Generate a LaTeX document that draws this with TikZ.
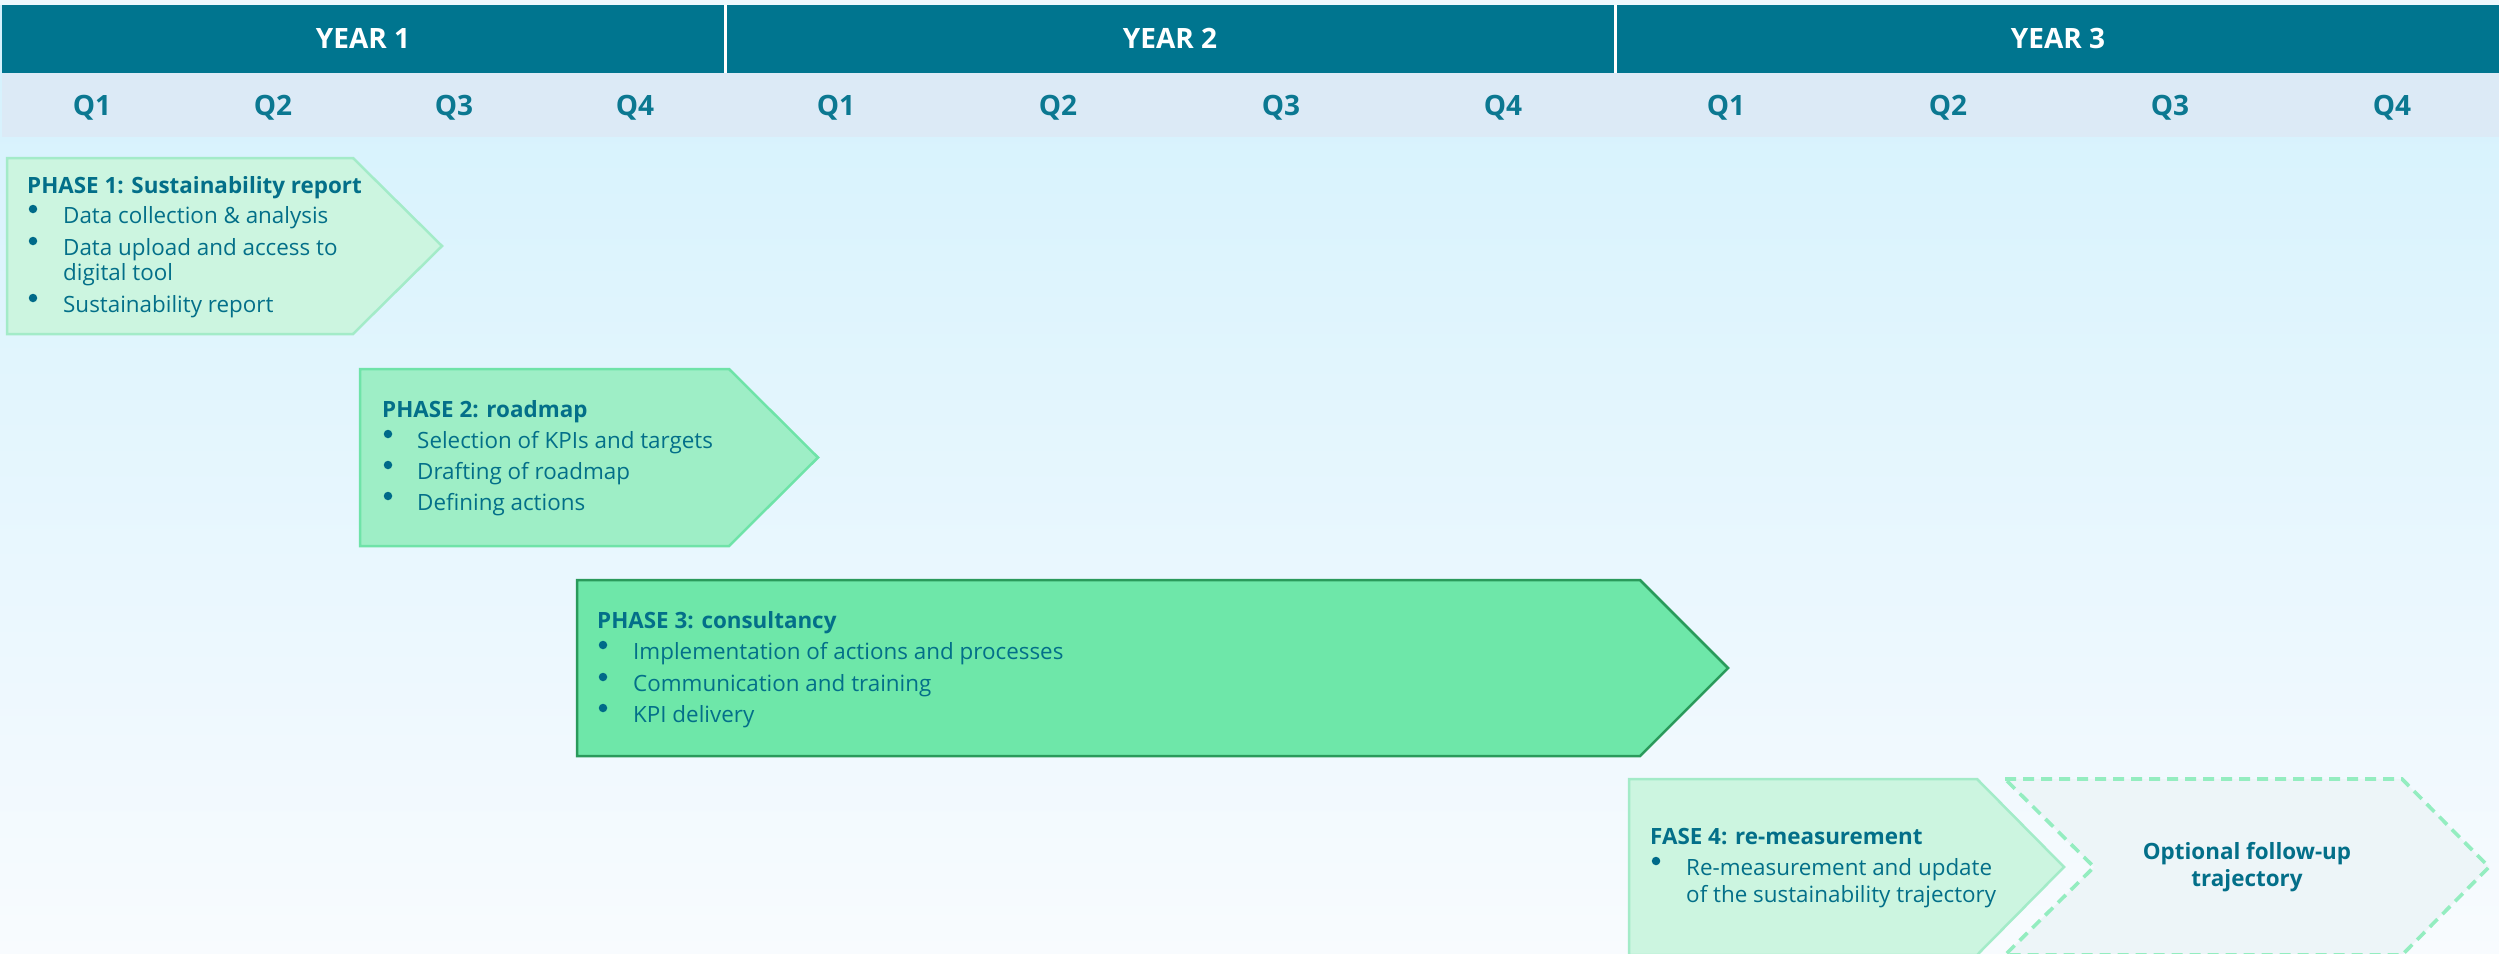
\documentclass[tikz,border=0pt]{standalone}
\usepackage{fontspec}
\setmainfont{Open Sans}
\definecolor{bgtop}{HTML}{D3F1FD}
\definecolor{bgbot}{HTML}{F8FBFE}
\definecolor{yearband}{HTML}{00758F}
\definecolor{qband}{HTML}{DCEAF6}
\definecolor{qtext}{HTML}{0B7891}
\definecolor{ptext}{HTML}{036F89}
\definecolor{dotcol}{HTML}{006A89}
\definecolor{lightfill}{HTML}{CCF5E0}
\definecolor{lightline}{HTML}{A3EBC8}
\definecolor{midfill}{HTML}{9EEEC6}
\definecolor{midline}{HTML}{6FE3A8}
\definecolor{darkfill}{HTML}{6EE7A9}
\definecolor{darkline}{HTML}{2A9A5B}
\definecolor{optfill}{HTML}{EDF5F8}
\definecolor{optline}{HTML}{94EDC0}
\tikzset{
  yeartext/.style={text=white, font=\fontsize{28}{32}\selectfont\bfseries, anchor=base, inner sep=0pt},
  qlabel/.style={text=qtext, font=\fontsize{28}{32}\selectfont\bfseries, anchor=base, inner sep=0pt},
  ptitle/.style={text=ptext, font=\fontsize{22.4}{26}\selectfont\bfseries, anchor=base west, inner sep=0pt},
  pitem/.style={text=ptext, font=\fontsize{22.4}{26}\selectfont, anchor=base west, inner sep=0pt},
  opttext/.style={text=ptext, font=\fontsize{22.4}{26}\selectfont\bfseries, anchor=base, inner sep=0pt},
  bulletdot/.style={circle, fill=dotcol, inner sep=0pt, minimum size=8.5pt},
  chevlight/.style={fill=lightfill, draw=lightline, line width=2.5pt, line join=miter},
  chevmid/.style={fill=midfill, draw=midline, line width=2.5pt, line join=miter},
  chevdark/.style={fill=darkfill, draw=darkline, line width=2.5pt, line join=miter},
  chevopt/.style={fill=optfill, draw=optline, line width=3.6pt, dash pattern=on 11pt off 7pt},
}
\begin{document}
\begin{tikzpicture}[x=1pt, y=-1pt]
\useasboundingbox (0,0) rectangle (2499,953);
% background
\shade[top color=bgtop, bottom color=bgbot] (0,0) rectangle (2499,953);
\fill[white!60!bgtop] (0,0) rectangle (2499,5);
% header bands
\fill[yearband] (2,5) rectangle (2499,73);
\fill[qband] (2,73) rectangle (2499,137);
\fill[white] (724,5) rectangle (727,73);
\fill[white] (1614,5) rectangle (1617,73);
% year labels
\node[yeartext] (y1) at (363,48) {YEAR 1};
\node[yeartext] (y2) at (1170,48) {YEAR 2};
\node[yeartext] (y3) at (2058,48) {YEAR 3};
% quarter labels
\node[qlabel] (a1) at (92,115) {Q1};
\node[qlabel] (a2) at (273,115) {Q2};
\node[qlabel] (a3) at (454,115) {Q3};
\node[qlabel] (a4) at (635,115) {Q4};
\node[qlabel] (b1) at (836,115) {Q1};
\node[qlabel] (b2) at (1058,115) {Q2};
\node[qlabel] (b3) at (1281,115) {Q3};
\node[qlabel] (b4) at (1503,115) {Q4};
\node[qlabel] (c1) at (1726,115) {Q1};
\node[qlabel] (c2) at (1948,115) {Q2};
\node[qlabel] (c3) at (2170,115) {Q3};
\node[qlabel] (c4) at (2392,115) {Q4};
% phase chevrons
\draw[chevlight] (7,158) -- (353,158) -- (442,246) -- (353,334) -- (7,334) -- cycle;
\draw[chevmid] (360,369) -- (729,369) -- (818,457.5) -- (729,546) -- (360,546) -- cycle;
\draw[chevdark] (577,580) -- (1640,580) -- (1728,668) -- (1640,756) -- (577,756) -- cycle;
\draw[chevlight] (1629,779) -- (1977,779) -- (2064,867) -- (1977,955) -- (1629,955) -- cycle;
\draw[chevopt] (2005,779) -- (2402,779) -- (2489,867) -- (2402,955) -- (2005,955) -- (2094,867) -- cycle;
% phase 1
\node[ptitle] (p1t) at (27,193) {PHASE 1: Sustainability report};
\node[bulletdot] (p1d1) at (33,209) {};
\node[pitem] (p1i1) at (63,223) {Data collection \& analysis};
\node[bulletdot] (p1d2) at (33,241) {};
\node[pitem] (p1i2) at (63,255) {Data upload and access to};
\node[pitem] (p1i2b) at (63,280) {digital tool};
\node[bulletdot] (p1d3) at (33,298) {};
\node[pitem] (p1i3) at (63,312) {Sustainability report};
% phase 2
\node[ptitle] (p2t) at (382,417) {PHASE 2: roadmap};
\node[bulletdot] (p2d1) at (388,434) {};
\node[pitem] (p2i1) at (417,448) {Selection of KPIs and targets};
\node[bulletdot] (p2d2) at (388,465) {};
\node[pitem] (p2i2) at (417,479) {Drafting of roadmap};
\node[bulletdot] (p2d3) at (388,496) {};
\node[pitem] (p2i3) at (417,510) {Defining actions};
% phase 3
\node[ptitle] (p3t) at (597,628) {PHASE 3: consultancy};
\node[bulletdot] (p3d1) at (603,645) {};
\node[pitem] (p3i1) at (633,659) {Implementation of actions and processes};
\node[bulletdot] (p3d2) at (603,677) {};
\node[pitem] (p3i2) at (633,691) {Communication and training};
\node[bulletdot] (p3d3) at (603,708) {};
\node[pitem] (p3i3) at (633,722) {KPI delivery};
% phase 4
\node[ptitle] (p4t) at (1650,844) {FASE 4: re-measurement};
\node[bulletdot] (p4d1) at (1656,861) {};
\node[pitem] (p4i1) at (1686,875) {Re-measurement and update};
\node[pitem] (p4i1b) at (1686,902) {of the sustainability trajectory};
% optional
\node[opttext] (o1) at (2247,859) {Optional follow-up};
\node[opttext] (o2) at (2247,886) {trajectory};
\end{tikzpicture}
\end{document}
